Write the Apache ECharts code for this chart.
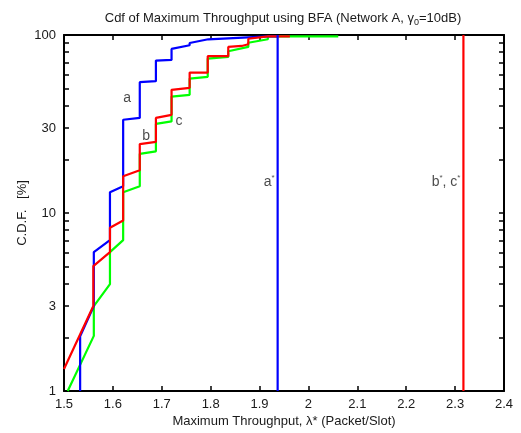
<!DOCTYPE html>
<html><head><meta charset="utf-8">
<script src="https://cdn.jsdelivr.net/npm/echarts@6/dist/echarts.min.js"></script>
<style>html,body{margin:0;padding:0;background:#fff}#c{width:521px;height:433px}</style>
</head><body><div id="c"></div>
<script>
// ---- data ----
const aX = [1.533,1.533,1.561,1.561,1.594,1.594,1.621,1.621,1.655,1.655,1.688,1.688,1.720,1.720,1.757,1.757,1.795,1.795,1.917,1.937];
const aY = [1.0,2.03,3.0,6.03,7.04,13.08,14.13,33.4,34.2,54.3,55.0,71.8,72.4,83.5,87.6,90.2,94.6,96.6,98.3,98.3];
const bX = [1.5,1.560,1.560,1.594,1.594,1.621,1.621,1.655,1.655,1.688,1.688,1.720,1.720,1.757,1.757,1.794,1.794,1.836,1.836,1.8635,1.8635,1.877,1.877,1.917,1.962];
const bY = [1.33,3.0,5.03,6.03,8.26,9.08,16.08,17.37,24.4,25.1,34.2,35.6,49.2,50.5,61.5,61.5,76.0,76.0,85.7,86.8,88.7,88.7,95.3,98.3,98.3];
const cX = [1.5076,1.561,1.561,1.594,1.594,1.621,1.621,1.655,1.655,1.688,1.688,1.720,1.720,1.757,1.757,1.794,1.794,1.836,1.836,1.877,1.877,1.917,1.917,2.061];
const cY = [1.0,2.04,3.0,3.98,6.03,7.04,13.08,14.13,21.5,22.2,31.7,32.7,45.1,46.1,56.9,58.2,73.7,75.3,81.0,85.7,90.5,94.6,98.3,98.3];
const aStarX = 1.937;
const bcStarX = 2.317;
const yRange = [1, 100];
const xRange = [1.5, 2.4];
const xStep = 0.1;
const yTickLabels = [1, 3, 10, 30, 100];
const yTicks = [1,2,3,4,5,6,7,8,9,10,20,30,40,50,60,70,80,90,100];
const curveNames = ['a', 'b', 'c'];
const curveLabelX = [1.629, 1.668, 1.735];
const curveLabelY = [44.4, 27.2, 33.0];
const starLabels = ['a{s|*}', 'b{s|*}, c{s|*}'];
const starLabelY = 15.0;

// ---- chart ----
const FONT = '"Liberation Sans", Arial, sans-serif';
const TXT = '#1a1a1a';
const zip = (xs, ys) => xs.map((x, i) => [x, ys[i]]);
const chart = echarts.init(document.getElementById('c'), null, {renderer: 'canvas'});
const tickStyle = {show: true, inside: true, length: 5, lineStyle: {color: '#000', width: 1.5}};
const lineStyle = {color: '#000', width: 2};
const baseX = {type: 'value', min: xRange[0], max: xRange[1], interval: xStep,
  axisLine: {show: true, onZero: false, lineStyle}, axisTick: tickStyle, splitLine: {show: false}};
const baseY = {type: 'log', logBase: 10, min: yRange[0], max: yRange[1],
  axisLine: {show: true, onZero: false, lineStyle},
  axisTick: Object.assign({}, tickStyle, {customValues: yTicks}),
  minorTick: {show: false}, splitLine: {show: false}};
const line = (name, xs, ys, color) => ({type: 'line', name, data: zip(xs, ys), showSymbol: false,
  symbol: 'none', lineStyle: {color, width: 2.2}, itemStyle: {color}, animation: false, z: 3});
const starRich = {s: {fontSize: 8, lineHeight: 16, verticalAlign: 'top', fontFamily: FONT, color: TXT}};
chart.setOption({
  animation: false,
  backgroundColor: '#fff',
  title: {
    text: 'Cdf of Maximum Throughput using BFA (Network A, γ{sub|0}=10dB)',
    left: 278, top: 4, textAlign: 'center',
    textStyle: {fontSize: 13, fontWeight: 'normal', color: TXT, fontFamily: FONT, lineHeight: 18,
      rich: {sub: {fontSize: 9, lineHeight: 9, verticalAlign: 'bottom', fontFamily: FONT, color: TXT}}}
  },
  grid: {left: 64, right: 17, top: 35, bottom: 41, containLabel: false},
  xAxis: [
    Object.assign({}, baseX, {position: 'bottom',
      name: 'Maximum Throughput, λ* (Packet/Slot)', nameLocation: 'middle', nameGap: 24, nameMoveOverlap: false,
      nameTextStyle: {fontSize: 13, color: TXT, fontFamily: FONT},
      axisLabel: {show: true, margin: 7, fontSize: 13, color: TXT, fontFamily: FONT}}),
    Object.assign({}, baseX, {position: 'top', axisLabel: {show: false}})
  ],
  yAxis: [
    Object.assign({}, baseY, {position: 'left',
      name: 'C.D.F.   [%]', nameLocation: 'middle', nameGap: 35, nameMoveOverlap: false,
      nameTextStyle: {fontSize: 13, color: TXT, fontFamily: FONT},
      axisLabel: {show: true, margin: 8, fontSize: 13, color: TXT, fontFamily: FONT, customValues: yTickLabels}}),
    Object.assign({}, baseY, {position: 'right', axisLabel: {show: false}})
  ],
  series: [
    line('c', cX, cY, '#00ff00'),
    line('a', aX, aY, '#0000ff'),
    line('b', bX, bY, '#ff0000'),
    line('a*', [aStarX, aStarX], yRange, '#0000ff'),
    line('b*, c*', [bcStarX, bcStarX], yRange, '#ff0000'),
    {type: 'scatter', symbolSize: 0, silent: true, z: 5,
      data: curveNames.map((n, i) => ({value: [curveLabelX[i], curveLabelY[i]], name: n})),
      label: {show: true, position: 'inside', formatter: p => p.name, fontSize: 14, color: TXT, fontFamily: FONT}},
    {type: 'scatter', symbolSize: 0, silent: true, z: 5,
      data: [aStarX, bcStarX].map((x, i) => ({value: [x, starLabelY], name: starLabels[i]})),
      label: {show: true, position: 'left', distance: 3, formatter: p => p.name, fontSize: 14, lineHeight: 16,
        color: TXT, fontFamily: FONT, rich: starRich}}
  ]
});
</script></body></html>
